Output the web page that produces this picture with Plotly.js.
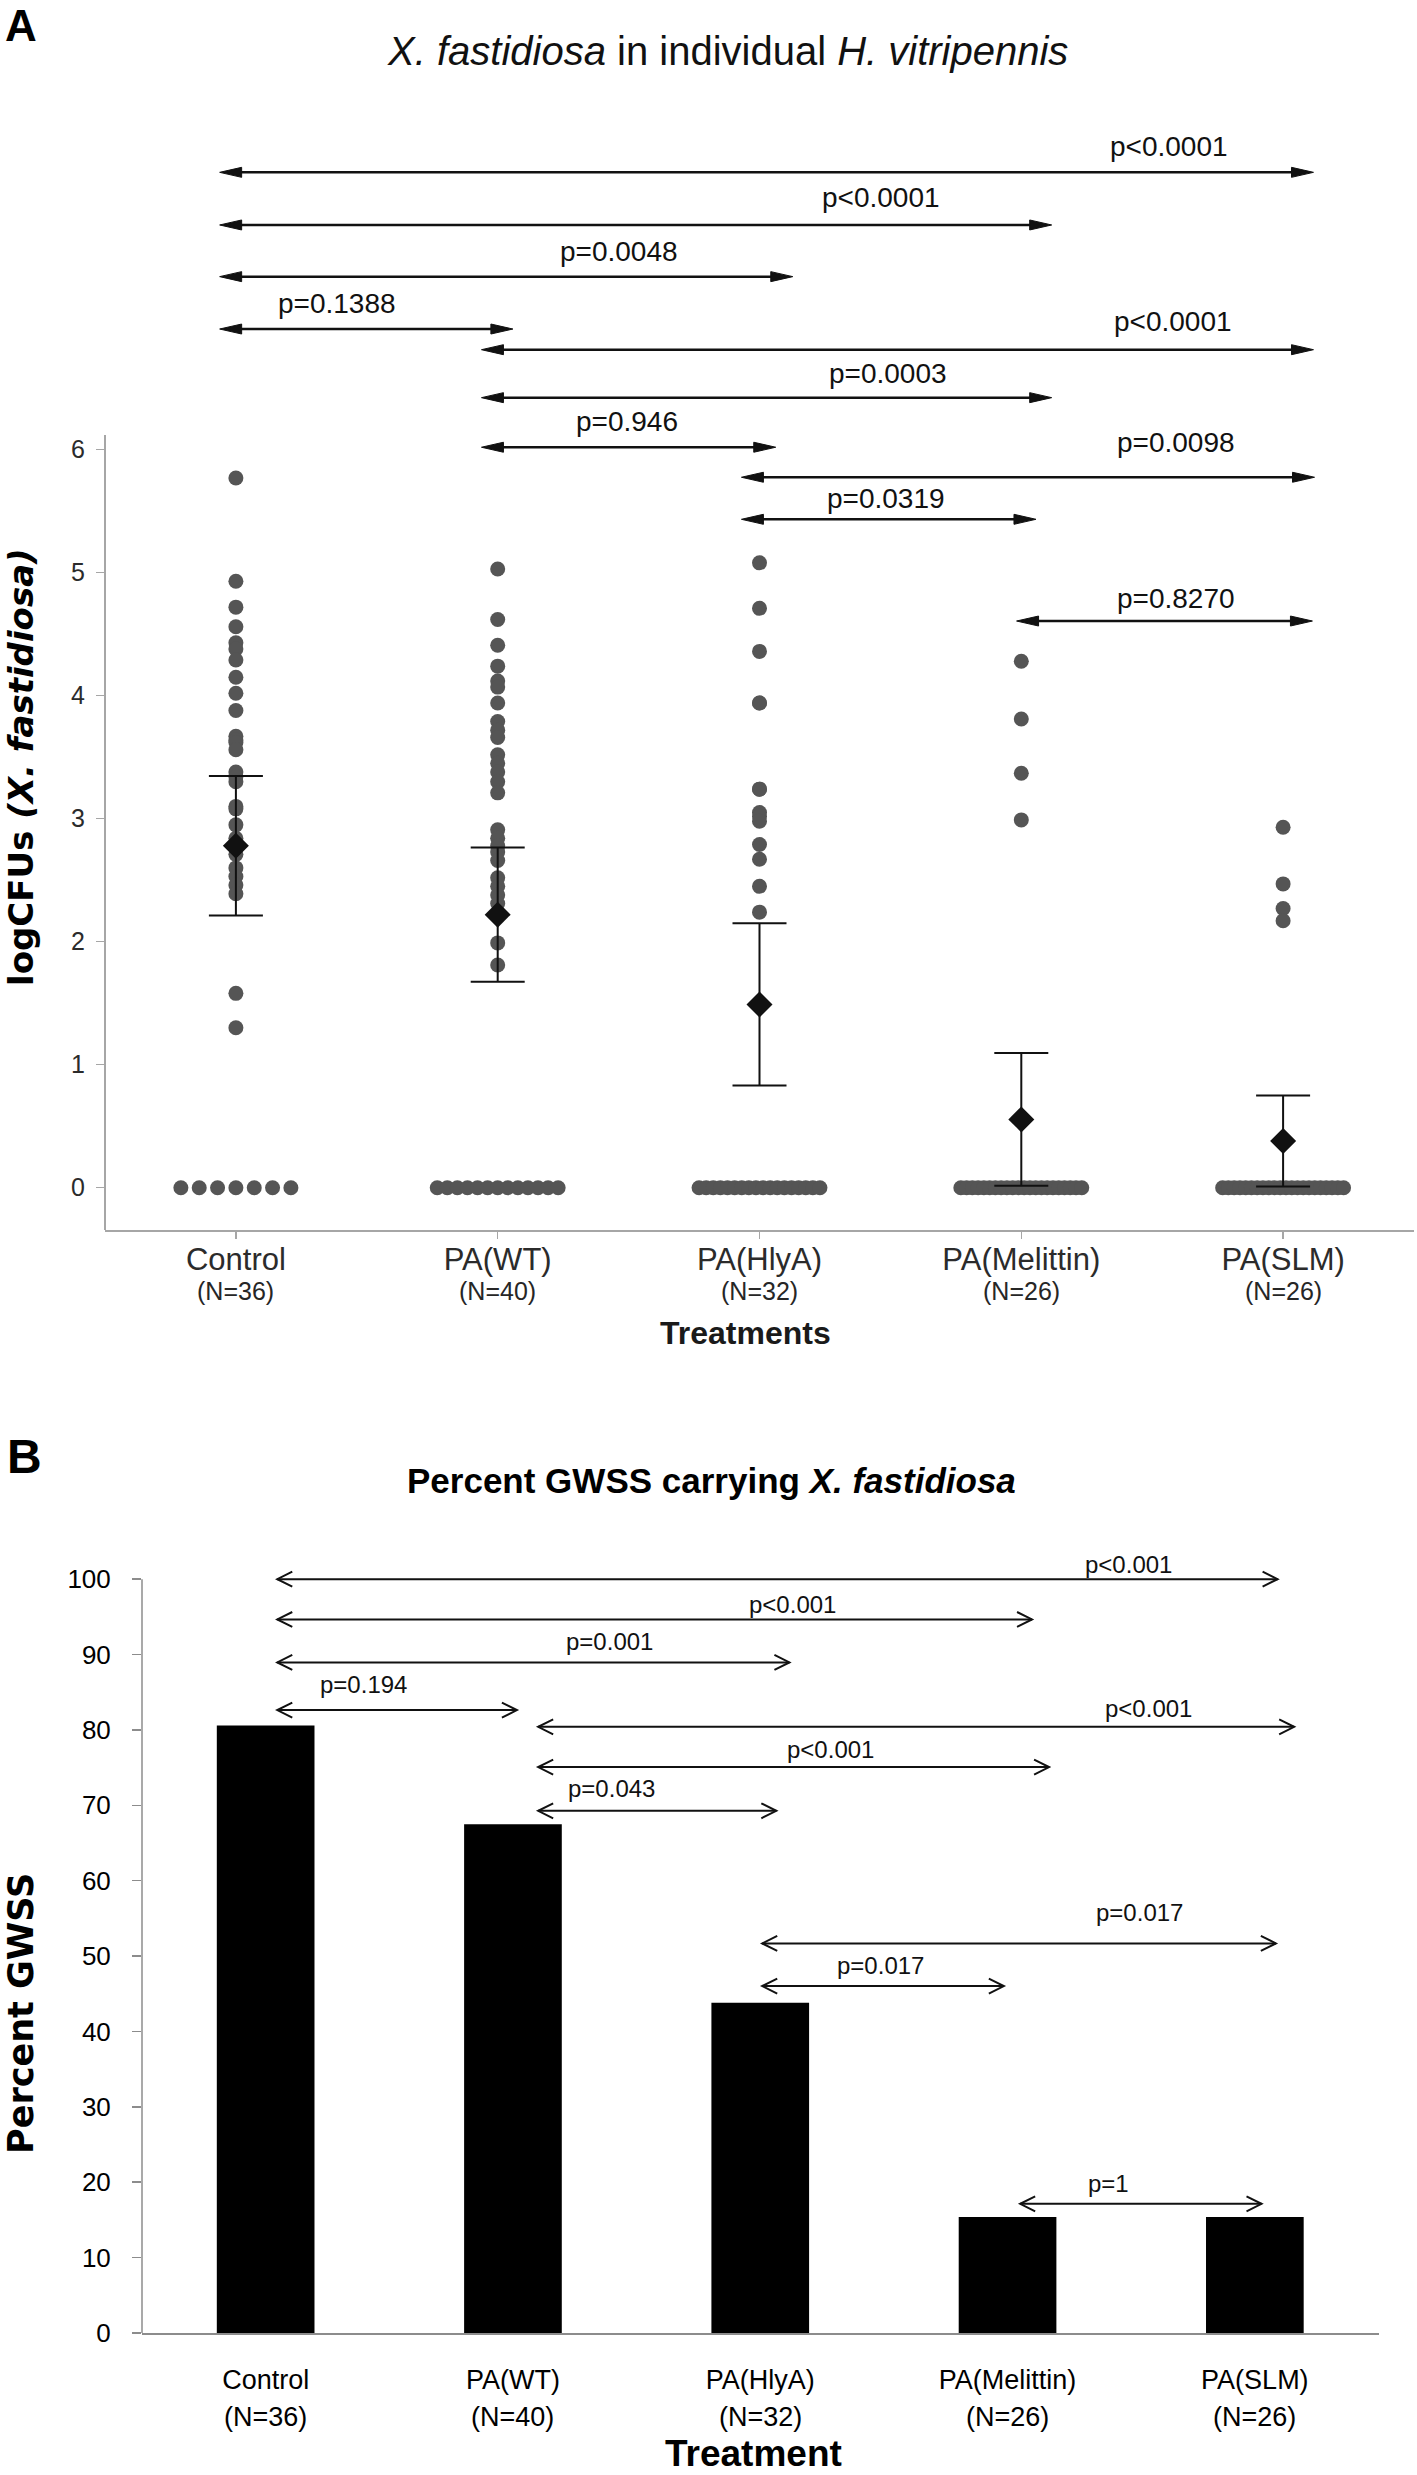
<!DOCTYPE html>
<html>
<head>
<meta charset="utf-8">
<script src="https://cdn.plot.ly/plotly-3.0.1.min.js"></script>
<style>html,body{margin:0;padding:0;background:#fff;}</style>
</head>
<body>
<div id="chart" style="width:1417px;height:2475px;"></div>
<script>
// ================= DATA =================
const treatments = ['Control', 'PA(WT)', 'PA(HlyA)', 'PA(Melittin)', 'PA(SLM)'];
const sampleSizes = [36, 40, 32, 26, 26];

// Panel A: log CFU of X. fastidiosa in individual insects
const logCFU_Control = [5.77, 4.93, 4.72, 4.56, 4.43, 4.38, 4.29, 4.15, 4.02, 3.88, 3.67, 3.64, 3.62, 3.56,
  3.38, 3.34, 3.30, 3.10, 3.08, 2.95, 2.84, 2.80, 2.71, 2.60, 2.53, 2.46, 2.39, 1.58, 1.30,
  0, 0, 0, 0, 0, 0, 0];
const logCFU_WT = [5.03, 4.62, 4.41, 4.24, 4.12, 4.07, 3.94, 3.79, 3.72, 3.66, 3.52, 3.45, 3.38, 3.30,
  3.21, 2.91, 2.84, 2.78, 2.73, 2.66, 2.52, 2.45, 2.38, 2.31, 2.22, 1.99, 1.81,
  0, 0, 0, 0, 0, 0, 0, 0, 0, 0, 0, 0, 0];
const logCFU_HlyA = [5.08, 4.71, 4.36, 3.94, 3.94, 3.24, 3.24, 3.05, 3.02, 2.98, 2.79, 2.67, 2.45, 2.24,
  0, 0, 0, 0, 0, 0, 0, 0, 0, 0, 0, 0, 0, 0, 0, 0, 0, 0];
const logCFU_Melittin = [4.28, 3.81, 3.37, 2.99,
  0, 0, 0, 0, 0, 0, 0, 0, 0, 0, 0, 0, 0, 0, 0, 0, 0, 0, 0, 0, 0, 0];
const logCFU_SLM = [2.93, 2.47, 2.27, 2.17,
  0, 0, 0, 0, 0, 0, 0, 0, 0, 0, 0, 0, 0, 0, 0, 0, 0, 0, 0, 0, 0, 0];
const meanLogCFU = [2.78, 2.22, 1.49, 0.555, 0.38];
const ciLogCFU = [0.567, 0.545, 0.66, 0.54, 0.37];

// Panel B: percent of GWSS carrying X. fastidiosa
const percentGWSS = [80.6, 67.5, 43.8, 15.4, 15.4];

// pairwise comparisons (indices into treatments)
const pairFrom = [0, 0, 0, 0, 1, 1, 1, 2, 2, 3];
const pairTo   = [4, 3, 2, 1, 4, 3, 2, 4, 3, 4];
const pLabelsA = ['p<0.0001', 'p<0.0001', 'p=0.0048', 'p=0.1388', 'p<0.0001', 'p=0.0003', 'p=0.946', 'p=0.0098', 'p=0.0319', 'p=0.8270'];
const pLabelsB = ['p<0.001', 'p<0.001', 'p=0.001', 'p=0.194', 'p<0.001', 'p<0.001', 'p=0.043', 'p=0.017', 'p=0.017', 'p=1'];

// ================= LAYOUT OF BRACKETS (positions, not data) =================
const bracketA = {
  y:  [8.255, 7.827, 7.407, 6.981, 6.813, 6.423, 6.020, 5.776, 5.434, 4.607],
  x0: [-0.062, -0.062, -0.062, -0.062, 0.938, 0.938, 0.938, 1.931, 1.931, 2.982],
  x1: [4.116, 3.116, 2.127, 1.058, 4.116, 3.116, 2.062, 4.120, 3.056, 4.112],
  lx: [3.566, 2.463, 1.463, 0.387, 3.581, 2.490, 1.494, 3.589, 2.482, 3.589],
  ly: [8.382, 7.973, 7.528, 7.109, 6.959, 6.540, 6.146, 5.976, 5.524, 4.711]
};
const bracketB = {
  y:  [100.0, 94.65, 88.95, 82.63, 80.41, 75.07, 69.27, 51.68, 46.02, 17.14],
  x0: [0.047, 0.047, 0.047, 0.047, 1.102, 1.102, 1.102, 2.008, 2.008, 3.051],
  x1: [4.092, 3.099, 2.118, 1.016, 4.159, 3.168, 2.065, 4.085, 2.985, 4.027],
  lx: [3.489, 2.130, 1.390, 0.395, 3.570, 2.284, 1.400, 3.533, 2.485, 3.408],
  ly: [100.8, 95.5, 90.6, 84.9, 81.7, 76.3, 71.1, 54.7, 47.6, 18.7]
};

// ================= BUILD =================
const W = 1417, H = 2475;
const py = px => 1 - px / H;
const pxX = px => px / W;
const FONT = '"Liberation Sans", Arial, sans-serif';
const FONT_ROT = '"DejaVu Sans", "Liberation Sans", Arial, sans-serif';

const logCFU = [logCFU_Control, logCFU_WT, logCFU_HlyA, logCFU_Melittin, logCFU_SLM];
const catIdx = treatments.map((_, i) => i);

// dot positions: tied zero values are laid side by side
const dotX = [], dotY = [];
const catPx = 262;
logCFU.forEach((vals, i) => {
  const zeros = vals.filter(v => v === 0).length;
  const step = zeros > 1 ? Math.min(18.35 / catPx, (121 / catPx) / (zeros - 1)) : 0;
  let k = 0;
  vals.forEach(v => {
    if (v === 0) { dotX.push(i + (k - (zeros - 1) / 2) * step); k++; }
    else dotX.push(i);
    dotY.push(v);
  });
});

const traces = [
  {type: 'scatter', mode: 'markers', x: dotX, y: dotY, xaxis: 'x', yaxis: 'y',
   marker: {size: 15, color: '#555555'}, hoverinfo: 'skip', cliponaxis: false},
  {type: 'scatter', mode: 'markers', x: catIdx, y: meanLogCFU, xaxis: 'x', yaxis: 'y',
   marker: {symbol: 'diamond', size: 20, color: '#111111'},
   error_y: {type: 'data', array: ciLogCFU, visible: true, color: '#111111', thickness: 2, width: 27},
   cliponaxis: false},
  {type: 'bar', x: catIdx, y: percentGWSS, xaxis: 'x2', yaxis: 'y2', width: 0.395,
   marker: {color: '#000000', line: {width: 0}}}
];

const shapes = [];
// visible y-axis lines (only over the data range)
shapes.push({type: 'line', xref: 'x domain', yref: 'y', x0: 0, x1: 0, y0: -0.344, y1: 6.12,
  line: {color: '#a6a6a6', width: 2}});
shapes.push({type: 'line', xref: 'x2 domain', yref: 'y2', x0: 0, x1: 0, y0: 0, y1: 100,
  line: {color: '#8c8c8c', width: 1.5}});

// Panel A brackets: filled triangle heads
const hlA = 22 / 262, hhA = 5 / 123;
pairFrom.forEach((f, k) => {
  const y = bracketA.y[k], a = bracketA.x0[k], b = bracketA.x1[k];
  shapes.push({type: 'line', xref: 'x', yref: 'y', x0: a + hlA / 2, x1: b - hlA / 2, y0: y, y1: y,
    line: {color: '#111', width: 2.5}});
  shapes.push({type: 'path', xref: 'x', yref: 'y',
    path: `M${b},${y} L${b - hlA},${y + hhA} L${b - hlA},${y - hhA} Z`,
    fillcolor: '#111', line: {color: '#111', width: 1}});
  shapes.push({type: 'path', xref: 'x', yref: 'y',
    path: `M${a},${y} L${a + hlA},${y + hhA} L${a + hlA},${y - hhA} Z`,
    fillcolor: '#111', line: {color: '#111', width: 1}});
});
// Panel B brackets: open chevron heads
const hlB = 15 / 247.2, hhB = 7.5 / 7.54;
pairFrom.forEach((f, k) => {
  const y = bracketB.y[k], a = bracketB.x0[k], b = bracketB.x1[k];
  shapes.push({type: 'line', xref: 'x2', yref: 'y2', x0: a, x1: b, y0: y, y1: y,
    line: {color: '#111', width: 2}});
  shapes.push({type: 'path', xref: 'x2', yref: 'y2',
    path: `M${b - hlB},${y + hhB} L${b},${y} L${b - hlB},${y - hhB}`,
    line: {color: '#111', width: 2}});
  shapes.push({type: 'path', xref: 'x2', yref: 'y2',
    path: `M${a + hlB},${y + hhB} L${a},${y} L${a + hlB},${y - hhB}`,
    line: {color: '#111', width: 2}});
});

const annotations = [];
const txt = (o) => Object.assign({showarrow: false, borderpad: 0}, o);
// panel letters and titles
annotations.push(txt({text: '<b>A</b>', xref: 'paper', yref: 'paper', x: pxX(4), y: 1,
  xanchor: 'left', yanchor: 'top', font: {family: FONT, size: 44, color: '#000'}}));
annotations.push(txt({text: '<b>B</b>', xref: 'paper', yref: 'paper', x: pxX(6), y: py(1456),
  xanchor: 'left', yanchor: 'middle', font: {family: FONT, size: 48, color: '#000'}}));
annotations.push(txt({text: '<i>X. fastidiosa</i> in individual <i>H. vitripennis</i>', xref: 'paper', yref: 'paper',
  x: pxX(727), y: py(51), xanchor: 'center', yanchor: 'middle', font: {family: FONT, size: 40, color: '#111'}}));
annotations.push(txt({text: '<b>Percent GWSS carrying <i>X. fastidiosa</i></b>', xref: 'paper', yref: 'paper',
  x: pxX(711.5), y: py(1480.5), xanchor: 'center', yanchor: 'middle', font: {family: FONT, size: 35, color: '#000'}}));
// axis titles
annotations.push(txt({text: '<b>Treatments</b>', xref: 'paper', yref: 'paper', x: pxX(745), y: py(1333),
  xanchor: 'center', yanchor: 'middle', font: {family: FONT, size: 32, color: '#1a1a1a'}}));
annotations.push(txt({text: '<b>Treatment</b>', xref: 'paper', yref: 'paper', x: pxX(753), y: 0,
  xanchor: 'center', yanchor: 'bottom', font: {family: FONT, size: 37, color: '#000'}}));
annotations.push(txt({text: '<b>logCFUs <i>(X. fastidiosa)</i></b>', xref: 'paper', yref: 'paper', x: 0, y: py(767),
  xanchor: 'left', yanchor: 'middle', textangle: -90, font: {family: FONT_ROT, size: 34, color: '#000'}}));
annotations.push(txt({text: '<b>Percent GWSS</b>', xref: 'paper', yref: 'paper', x: 0, y: py(2014),
  xanchor: 'left', yanchor: 'middle', textangle: -90, font: {family: FONT_ROT, size: 35, color: '#000'}}));
// sample sizes under category names
sampleSizes.forEach((n, i) => {
  annotations.push(txt({text: `(N=${n})`, xref: 'x', yref: 'paper', x: i, y: py(1291),
    xanchor: 'center', yanchor: 'middle', font: {family: FONT, size: 25, color: '#262626'}}));
  annotations.push(txt({text: `(N=${n})`, xref: 'x2', yref: 'paper', x: i, y: py(2416.5),
    xanchor: 'center', yanchor: 'middle', font: {family: FONT, size: 27, color: '#000'}}));
});
// p-value labels
pLabelsA.forEach((p, k) => {
  annotations.push(txt({text: p, xref: 'x', yref: 'y', x: bracketA.lx[k], y: bracketA.ly[k],
    xanchor: 'center', yanchor: 'middle', yshift: 0.35 * 28, font: {family: FONT, size: 28, color: '#111'}}));
});
pLabelsB.forEach((p, k) => {
  annotations.push(txt({text: p, xref: 'x2', yref: 'y2', x: bracketB.lx[k], y: bracketB.ly[k],
    xanchor: 'center', yanchor: 'middle', yshift: 0.35 * 24, font: {family: FONT, size: 24, color: '#111'}}));
});

const layout = {
  width: W, height: H,
  margin: {l: 0, r: 0, t: 0, b: 0},
  paper_bgcolor: '#ffffff', plot_bgcolor: 'rgba(0,0,0,0)',
  showlegend: false,
  xaxis: {domain: [pxX(105), pxX(1414)], range: [-0.5, 4.5], anchor: 'y',
    tickmode: 'array', tickvals: catIdx, ticktext: treatments,
    showline: true, linecolor: '#a6a6a6', linewidth: 2,
    ticks: 'outside', ticklen: 7, tickwidth: 1.5, tickcolor: '#a6a6a6',
    ticklabelstandoff: -6,
    tickfont: {family: FONT, size: 31, color: '#2b2b2b'},
    showgrid: false, zeroline: false},
  yaxis: {domain: [py(1230), py(142.2)], range: [-0.344, 8.5], anchor: 'x',
    tickmode: 'array', tickvals: [0, 1, 2, 3, 4, 5, 6],
    showline: false, ticks: 'outside', ticklen: 8, tickwidth: 1.5, tickcolor: '#a6a6a6',
    ticklabelstandoff: 6,
    tickfont: {family: FONT, size: 25, color: '#2b2b2b'},
    showgrid: false, zeroline: false},
  xaxis2: {domain: [pxX(142), pxX(1378.5)], range: [-0.5, 4.5], anchor: 'y2',
    tickmode: 'array', tickvals: catIdx, ticktext: treatments,
    showline: true, linecolor: '#8c8c8c', linewidth: 1.5, ticks: '',
    ticklabelstandoff: 22,
    tickfont: {family: FONT, size: 27, color: '#000'},
    showgrid: false, zeroline: false},
  yaxis2: {domain: [py(2333), py(1549)], range: [0, 104], anchor: 'x2',
    tickmode: 'array', tickvals: [0, 10, 20, 30, 40, 50, 60, 70, 80, 90, 100],
    showline: false, ticks: 'outside', ticklen: 9, tickwidth: 1.5, tickcolor: '#8c8c8c',
    ticklabelstandoff: 16,
    tickfont: {family: FONT, size: 26, color: '#000'},
    showgrid: false, zeroline: false},
  shapes: shapes,
  annotations: annotations
};

Plotly.newPlot('chart', traces, layout, {staticPlot: true});
</script>
</body>
</html>
